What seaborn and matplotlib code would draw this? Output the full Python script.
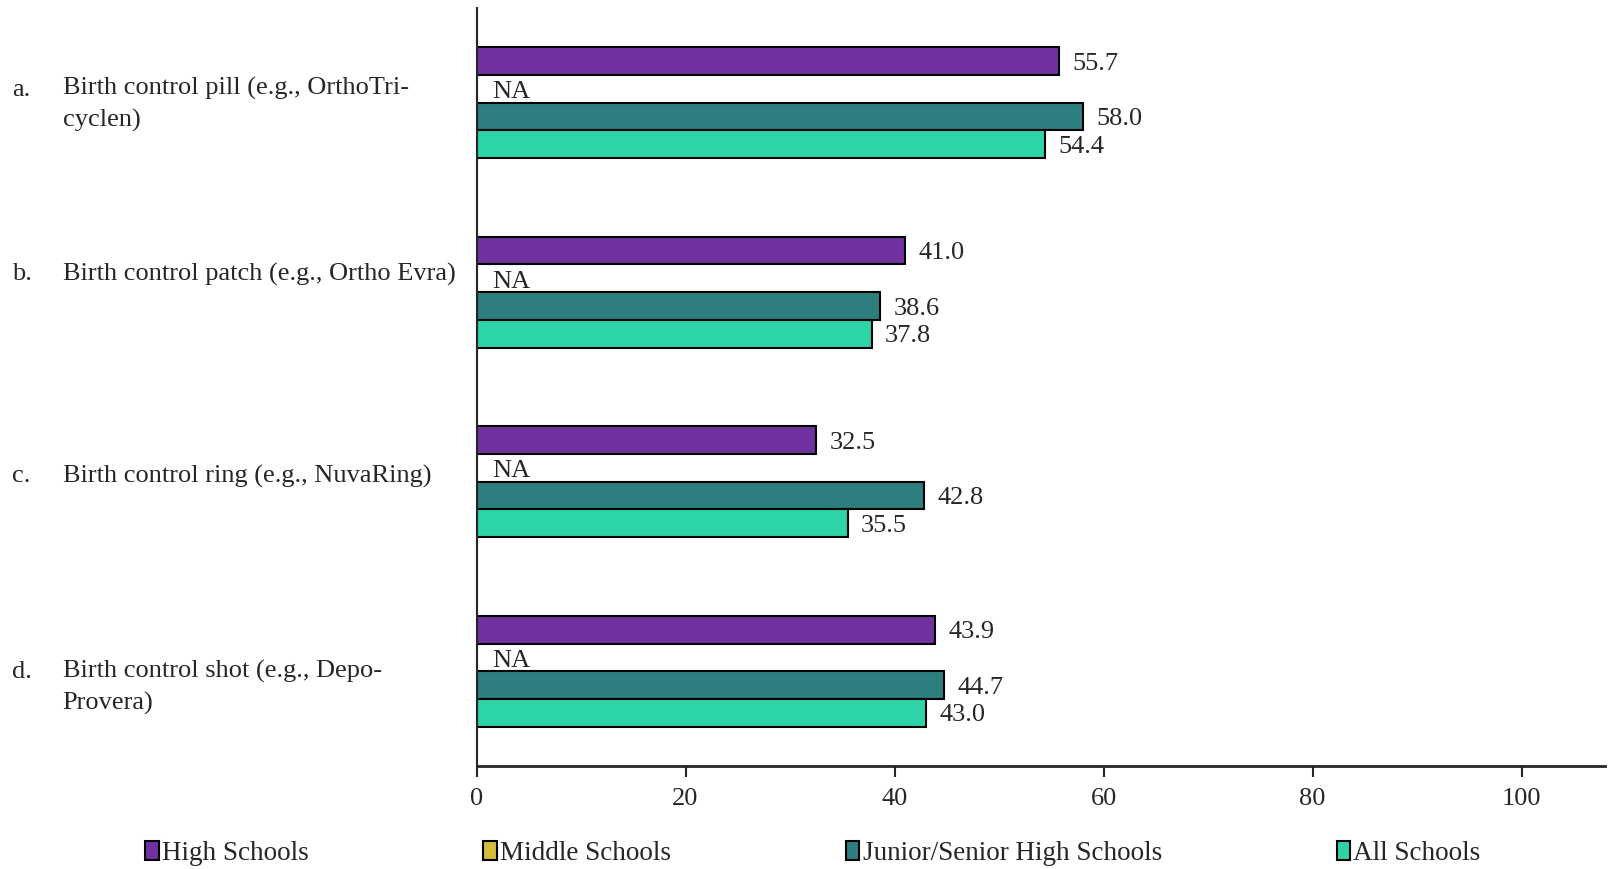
import numpy as np
import pandas as pd
import matplotlib
matplotlib.use("Agg")
import matplotlib.pyplot as plt
import matplotlib.transforms as mtransforms
import seaborn as sns
from matplotlib.patches import Patch

# Data
items = [
    "Birth control pill (e.g., OrthoTri-\ncyclen)",
    "Birth control patch (e.g., Ortho Evra)",
    "Birth control ring (e.g., NuvaRing)",
    "Birth control shot (e.g., Depo-\nProvera)",
]
letters = ["a.", "b.", "c.", "d."]
groups = ["High Schools", "Middle Schools", "Junior/Senior High Schools", "All Schools"]
high_schools = [55.7, 41.0, 32.5, 43.9]
middle_schools = [np.nan, np.nan, np.nan, np.nan]
jr_sr_high = [58.0, 38.6, 42.8, 44.7]
all_schools = [54.4, 37.8, 35.5, 43.0]
colors = ["#7030A0", "#D4BC3A", "#2C7E7F", "#2DD3A9"]
xticks = [0, 20, 40, 60, 80, 100]

# vertical nudges of the category labels (layout, in category units)
label_nudge = [0.012, -0.095, -0.03, 0.085]

sns.set_style("white")
plt.rcParams["font.family"] = ["Liberation Serif", "DejaVu Serif"]
FS = 19
plt.rcParams["font.size"] = FS

rows = []
for i, it in enumerate(items):
    for g, vals in zip(groups, [high_schools, middle_schools, jr_sr_high, all_schools]):
        rows.append({"item": it, "group": g, "value": vals[i]})
df = pd.DataFrame(rows)

fig = plt.figure(figsize=(16.10, 8.69), dpi=100)
ax = fig.add_axes([0.296, 0.1185, 0.701, 0.8725])

sns.barplot(data=df, y="item", x="value", hue="group", hue_order=groups,
            palette=colors, saturation=1, orient="h", width=0.585, dodge=True,
            edgecolor="black", linewidth=1.5, errorbar=None, legend=False, ax=ax)

ax.set_xlim(0, 108)
ax.set_ylim(3.5, -0.5)
ax.set_xticks(xticks)
ax.set_xlabel("")
ax.set_ylabel("")
ax.set_yticks([])
for s in ["top", "right"]:
    ax.spines[s].set_visible(False)
ax.spines["left"].set_linewidth(1.5)
ax.spines["bottom"].set_linewidth(2)
ax.tick_params(axis="x", direction="out", length=8, width=1.5, pad=8, labelsize=FS, bottom=True)

# value labels
bw = 0.585 / 4
for gi, (g, vals) in enumerate(zip(groups, [high_schools, middle_schools, jr_sr_high, all_schools])):
    for i, v in enumerate(vals):
        y = i - 0.585 / 2 + bw * (gi + 0.5)
        if np.isnan(v):
            ax.text(1.5, y + 0.018, "NA", va="center", ha="left", fontsize=FS)
        else:
            ax.text(v + 1.3, y + 0.014, f"{v:.1f}", va="center", ha="left", fontsize=FS)

# category labels with hanging indent
trans = mtransforms.blended_transform_factory(fig.transFigure, ax.transData)
for i, (lt, it) in enumerate(zip(letters, items)):
    n_lines = it.count("\n") + 1
    y = i + label_nudge[i]
    ax.text(0.0077, y, lt + "\n" * (n_lines - 1), transform=trans, ha="left", va="center",
            fontsize=FS, linespacing=1.5)
    ax.text(0.0389, y, it, transform=trans, ha="left", va="center",
            fontsize=FS, linespacing=1.5)

handles = [Patch(facecolor=c, edgecolor="black", linewidth=1.5) for c in colors]
fig.legend(handles, groups, loc="lower left", bbox_to_anchor=(0.075, -0.025), ncol=4,
           frameon=False, fontsize=19.5, handlelength=0.5, handleheight=0.7,
           handletextpad=0.12, columnspacing=6.45)

fig.savefig("out.png", dpi=100)
